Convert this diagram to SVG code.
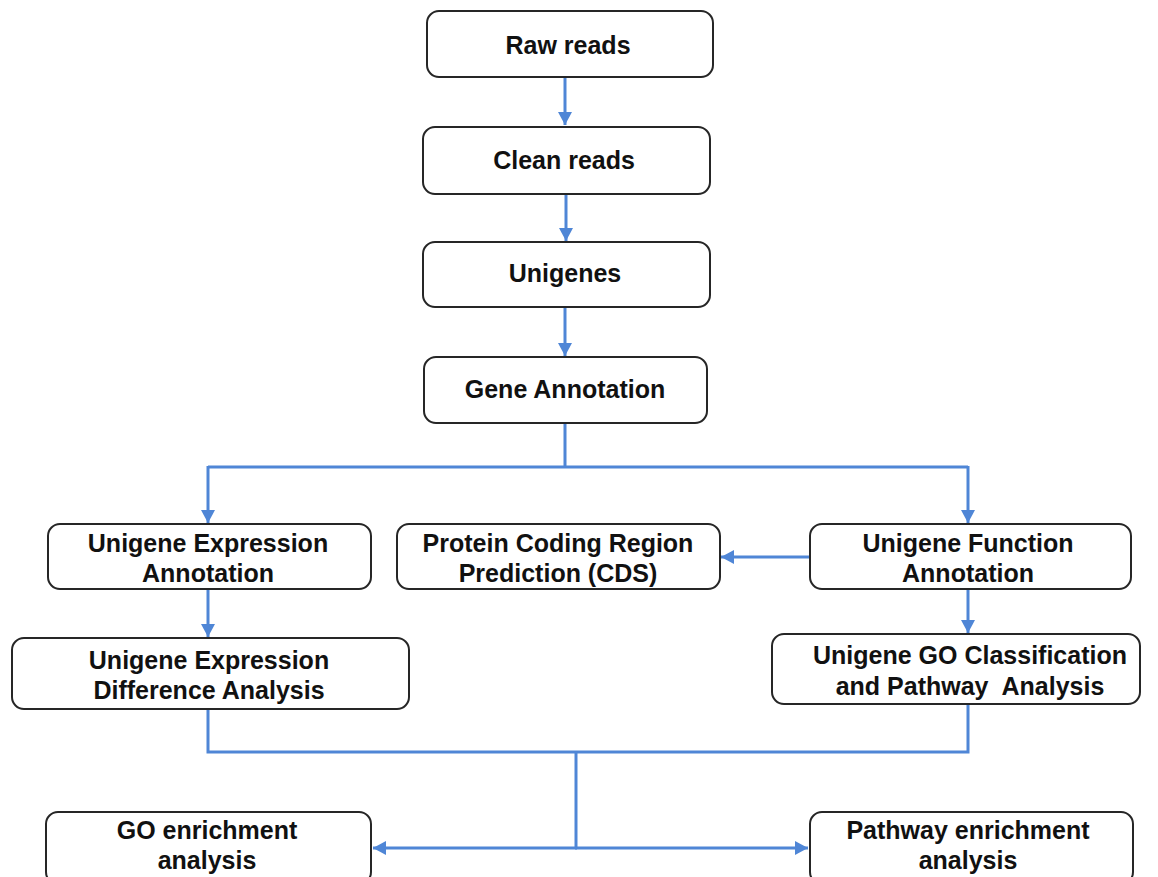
<svg xmlns="http://www.w3.org/2000/svg" width="1158" height="877" viewBox="0 0 1158 877">
<style>
.box{fill:#ffffff;stroke:#262626;stroke-width:2}
.lbl{font-family:"Liberation Sans",Arial,sans-serif;font-weight:bold;font-size:25px;fill:#111;text-anchor:middle}
.con{fill:none;stroke:#4f86d6;stroke-width:3}
</style>
<defs>
<marker id="ah" markerUnits="userSpaceOnUse" markerWidth="14" markerHeight="14" refX="13" refY="7" orient="auto">
<path d="M0,0 L13,7 L0,14 Z" fill="#4f86d6"/>
</marker>
</defs>
<rect width="1158" height="877" fill="#ffffff"/>
<g id="connectors">
<path class="con" d="M565,77 V125" marker-end="url(#ah)"/>
<path class="con" d="M566,194 V241" marker-end="url(#ah)"/>
<path class="con" d="M565,307 V356" marker-end="url(#ah)"/>
<path class="con" d="M565,423 V467 M208,467 H968"/>
<path class="con" d="M208,466 V523" marker-end="url(#ah)"/>
<path class="con" d="M968,466 V523" marker-end="url(#ah)"/>
<path class="con" d="M810,557 H721" marker-end="url(#ah)"/>
<path class="con" d="M208,589 V637" marker-end="url(#ah)"/>
<path class="con" d="M968,589 V633" marker-end="url(#ah)"/>
<path class="con" d="M208,709 V752 H968 V704"/>
<path class="con" d="M576,752 V848"/>
<path class="con" d="M577,848 H373" marker-end="url(#ah)"/>
<path class="con" d="M575,848 H808" marker-end="url(#ah)"/>
</g>
<g id="raw"><rect class="box" x="427" y="11" width="286" height="66" rx="12"/><text class="lbl" x="568" y="54">Raw reads</text></g>
<g id="clean"><rect class="box" x="423" y="127" width="287" height="67" rx="12"/><text class="lbl" x="564" y="169">Clean reads</text></g>
<g id="unigenes"><rect class="box" x="423" y="242" width="287" height="65" rx="12"/><text class="lbl" x="565" y="282">Unigenes</text></g>
<g id="gene"><rect class="box" x="424" y="357" width="283" height="66" rx="12"/><text class="lbl" x="565" y="398">Gene Annotation</text></g>
<g id="expr"><rect class="box" x="48" y="524" width="323" height="65" rx="12"/><text class="lbl" x="208" y="552">Unigene Expression</text><text class="lbl" x="208" y="582">Annotation</text></g>
<g id="cds"><rect class="box" x="397" y="524" width="323" height="65" rx="12"/><text class="lbl" x="558" y="552">Protein Coding Region</text><text class="lbl" x="558" y="582">Prediction (CDS)</text></g>
<g id="func"><rect class="box" x="810" y="524" width="321" height="65" rx="12"/><text class="lbl" x="968" y="552">Unigene Function</text><text class="lbl" x="968" y="582">Annotation</text></g>
<g id="diff"><rect class="box" x="12" y="638" width="397" height="71" rx="12"/><text class="lbl" x="209" y="669">Unigene Expression</text><text class="lbl" x="209" y="699">Difference Analysis</text></g>
<g id="goclass"><rect class="box" x="772" y="634" width="368" height="70" rx="12"/><text class="lbl" x="970" y="664">Unigene GO Classification</text><text class="lbl" x="970" y="695" style="white-space:pre">and Pathway  Analysis</text></g>
<g id="goenrich"><rect class="box" x="46" y="812" width="325" height="72" rx="12"/><text class="lbl" x="207" y="839">GO enrichment</text><text class="lbl" x="207" y="869">analysis</text></g>
<g id="pathenrich"><rect class="box" x="810" y="812" width="323" height="72" rx="12"/><text class="lbl" x="968" y="839">Pathway enrichment</text><text class="lbl" x="968" y="869">analysis</text></g>
</svg>
